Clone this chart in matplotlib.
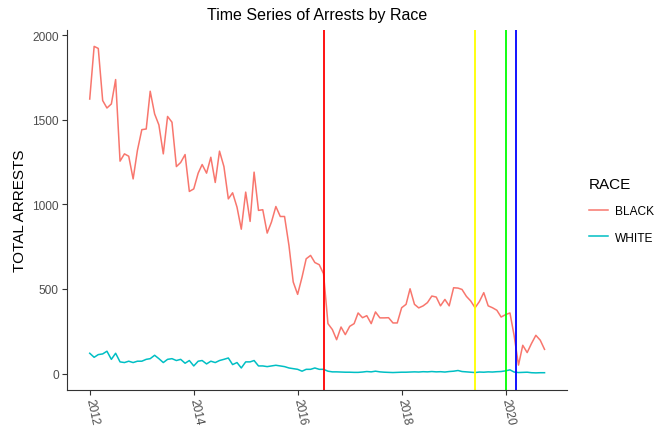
import matplotlib
matplotlib.use('Agg')
import matplotlib.pyplot as plt
import matplotlib.dates as mdates
import pandas as pd

plt.rcParams['font.family'] = ['Liberation Sans', 'DejaVu Sans']

#Monthly totals, Jan 2012 to Oct 2020
months = pd.date_range('2012-01-01', periods=106, freq='MS')
black = [1622, 1933, 1921, 1613, 1569, 1593, 1737, 1255, 1298, 1284, 1150, 1318,
         1441, 1445, 1668, 1534, 1469, 1298, 1519, 1485, 1223, 1247, 1294, 1076,
         1091, 1184, 1235, 1184, 1278, 1129, 1314, 1223, 1032, 1068, 983, 853,
         1072, 899, 1190, 964, 968, 830, 895, 987, 928, 928, 757, 541,
         468, 570, 678, 698, 656, 643, 590, 295, 260, 200, 275, 230,
         279, 295, 358, 330, 342, 295, 364, 329, 329, 330, 299, 299,
         389, 409, 501, 409, 388, 400, 419, 458, 452, 400, 438, 400,
         507, 505, 497, 456, 429, 389, 425, 478, 400, 389, 374, 334,
         348, 358, 226, 50, 167, 124, 177, 226, 197, 143]
white = [120, 96, 112, 116, 132, 84, 120, 69, 65, 73, 65, 73,
         73, 84, 88, 108, 88, 65, 84, 88, 77, 84, 61, 77,
         45, 73, 77, 57, 73, 65, 77, 84, 92, 53, 65, 33,
         69, 69, 77, 45, 45, 41, 45, 49, 45, 41, 33, 29,
         25, 14, 25, 25, 33, 25, 25, 14, 10, 10, 9, 8,
         8, 7, 7, 9, 12, 10, 14, 10, 8, 7, 6, 7,
         8, 8, 9, 10, 9, 11, 10, 12, 10, 11, 9, 12,
         14, 18, 12, 10, 8, 6, 9, 8, 10, 9, 11, 12,
         16, 22, 9, 6, 7, 8, 5, 4, 5, 5]
races = ['BLACK', 'WHITE']
race_colors = ['#F8766D', '#00BFC4']

#Event dates marked by vertical lines
event_dates = pd.to_datetime(['2016-07-01', '2019-06-01', '2020-01-01', '2020-03-12'])
event_colors = ['red', 'yellow', '#00FF00', 'blue']

fig = plt.figure(figsize=(6.6, 4.31), dpi=100)
ax = fig.add_axes([0.1015, 0.093, 0.758, 0.835])

for name, vals, col in zip(races, [black, white], race_colors):
    ax.plot(months, vals, color=col, linewidth=1.1, label=name)

for d, col in zip(event_dates, event_colors):
    ax.axvline(d, color=col, linewidth=1.3)

#ggplot style expansion of 5%
span = months[-1] - months[0]
ax.set_xlim(months[0] - span * 0.05, months[-1] + span * 0.05)
ymax = max(black)
ax.set_ylim(-ymax * 0.05, ymax * 1.05)

ax.xaxis.set_major_locator(mdates.YearLocator(2))
ax.xaxis.set_major_formatter(mdates.DateFormatter('%Y'))
ax.set_yticks([0, 500, 1000, 1500, 2000])

for s in ['top', 'right']:
    ax.spines[s].set_visible(False)
for s in ['left', 'bottom']:
    ax.spines[s].set_color('#333333')
    ax.spines[s].set_linewidth(0.8)
ax.tick_params(colors='#333333', labelcolor='#4D4D4D', labelsize=8.6, length=3.5, width=0.8, pad=2.5)
for lab in ax.get_xticklabels():
    lab.set_rotation(-78)
    lab.set_rotation_mode('anchor')
    lab.set_ha('left')
    lab.set_va('center')

ax.set_ylabel('TOTAL ARRESTS', fontsize=11, labelpad=4)
ax.set_title('Time Series of Arrests by Race', fontsize=11.5, pad=8)

fig.legend(title='RACE', loc='center left', bbox_to_anchor=(0.876, 0.51),
           frameon=False, fontsize=8.6, title_fontsize=11, handlelength=1.6,
           handletextpad=0.6, alignment='left', labelspacing=1.2)

fig.savefig('out.png', dpi=100)
